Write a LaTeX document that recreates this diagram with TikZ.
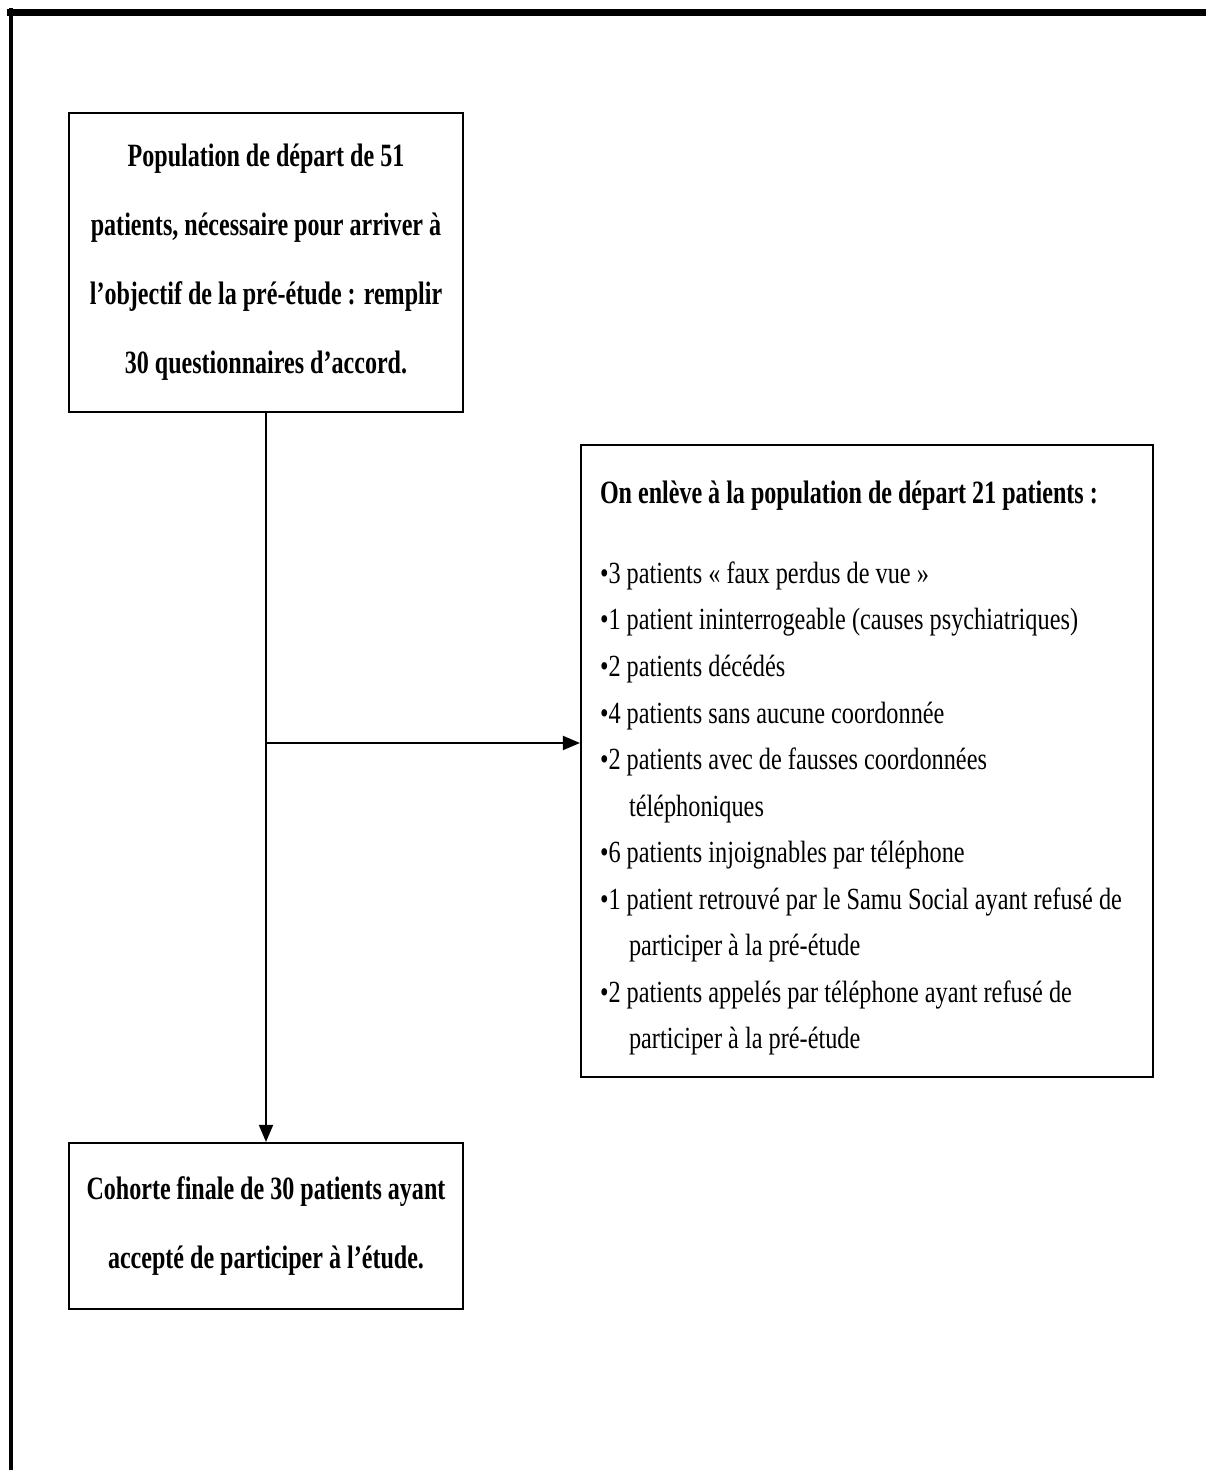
\documentclass[tikz,border=0pt]{standalone}
\usepackage{fontspec}
\setmainfont{Liberation Serif}
\newfontfamily\boxfont{Liberation Serif}[FakeStretch=0.74]
\newfontfamily\listfont{Liberation Serif}[FakeStretch=0.79]
\usetikzlibrary{arrows.meta}

\begin{document}
\begin{tikzpicture}[
    flowbox/.style={draw, line width=1.2pt, minimum width=7.88cm, inner sep=0pt, align=center, font=\boxfont\bfseries\fontsize{18.5}{39.3}\selectfont},
    >={Triangle[length=0.34cm, width=0.28cm]}
  ]

    \useasboundingbox (0,0) rectangle (24.12,29.4);
    \draw[line width=4.5pt] (0.14,29.15) -- (24.12,29.15);
    \draw[line width=2.8pt] (0.22,29.24) -- (0.22,0);

    \node[flowbox, minimum height=5.98cm] at (5.32,24.15) (start) {Population de départ de 51\\patients, nécessaire pour arriver à\\l’objectif de la pré-étude : remplir\\30 questionnaires d’accord.};
    \node[flowbox, minimum height=3.32cm] at (5.32,4.88) (final) {Cohorte finale de 30 patients ayant\\accepté de participer à l’étude.};

    \node[draw, line width=1.2pt, minimum width=11.44cm, minimum height=12.64cm, inner xsep=0.38cm, inner ysep=0pt, text width=10.68cm, align=flush left, font=\listfont\fontsize{17.5}{26.5}\selectfont] at (17.34,14.18) (removed) {\rule{0pt}{21pt}{\boxfont\bfseries\fontsize{18.5}{26.5}\selectfont On enlève à la population de départ 21 patients :}\\[19pt]
      •3 patients « faux perdus de vue »\\
      •1 patient ininterrogeable (causes psychiatriques)\\
      •2 patients décédés\\
      •4 patients sans aucune coordonnée\\
      •2 patients avec de fausses coordonnées\\
      \hspace*{0.58cm}téléphoniques\\
      •6 patients injoignables par téléphone\\
      •1 patient retrouvé par le Samu Social ayant refusé de\\
      \hspace*{0.58cm}participer à la pré-étude\\
      •2 patients appelés par téléphone ayant refusé de\\
      \hspace*{0.58cm}participer à la pré-étude};

    \coordinate (split) at (5.34,14.54);
    \draw[->, line width=1.1pt] (start.south) -- (final.north);
    \draw[->, line width=1.1pt] (split) -- (split -| removed.west);

\end{tikzpicture}
\end{document}
